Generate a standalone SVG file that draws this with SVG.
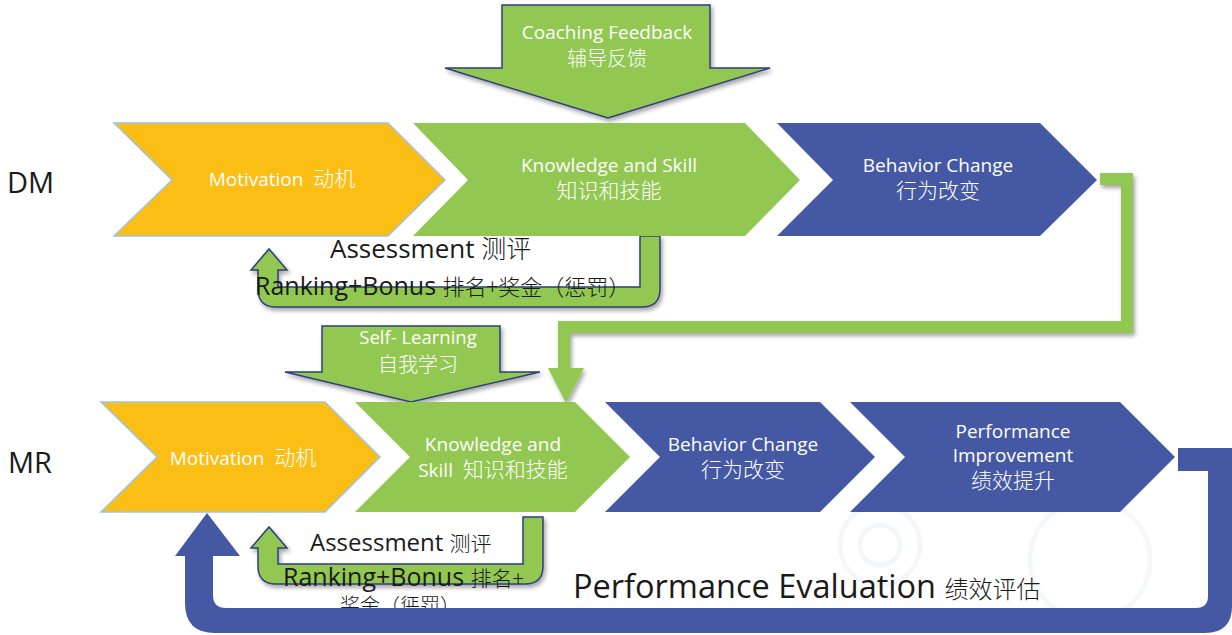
<svg xmlns="http://www.w3.org/2000/svg" width="1232" height="635" viewBox="0 0 1232 635">
<style>
.lbl{font-family:"Open Sans","Noto Sans CJK SC",sans-serif;fill:#1a1a1a}
.w{font-family:"Open Sans","Noto Sans CJK SC",sans-serif;fill:#ffffff;text-anchor:middle}
.cn{font-family:"Noto Sans CJK SC",sans-serif;font-weight:300}
.yel{fill:#FBBE15}
.grn{fill:#92C851}
.blu{fill:#4558A4}
.garrow{fill:#92C851;stroke:#2E3F7E;stroke-width:1.5;filter:url(#sh)}
</style>
<defs>
<filter id="sh" x="-10%" y="-10%" width="130%" height="130%">
<feDropShadow dx="2" dy="3" stdDeviation="2" flood-color="#000" flood-opacity="0.35"/>
</filter>
</defs>
<rect width="1232" height="635" fill="#ffffff"/>
<g id="watermark" fill="none" stroke="#eef2f6" stroke-width="5" opacity="0.6">
<circle cx="1090" cy="560" r="60"/>
<circle cx="880" cy="545" r="40"/>
<circle cx="880" cy="545" r="20"/>
</g>

<text class="lbl" x="7" y="193" font-size="29">DM</text>
<text class="lbl" x="8" y="473" font-size="29">MR</text>

<g id="connectors">
<path class="garrow" d="M640 236 L660 236 L660 289 Q660 307 642 307 L276 307 Q258 307 258 289 L258 270 L251 270 L269 249 L287 270 L278 270 L278 287 L640 287 Z"/>
<path class="garrow" d="M523 517 L543 517 L543 566 Q543 584 525 584 L276 584 Q258 584 258 566 L258 548 L251 548 L269 527 L287 548 L278 548 L278 564 L523 564 Z"/>
<path fill="#92C851" filter="url(#sh)" d="M1100 173 L1133 173 L1133 333 L570 333 L570 368 L584 368 L566 403 L548 368 L558 368 L558 321 L1121 321 L1121 185 L1100 185 Z"/>
</g>

<g id="coaching">
<path class="garrow" d="M502 5 L710 5 L710 68 L770 68 L608 118 L445 68 L502 68 Z"/>
<text class="w" x="607" y="39" font-size="19">Coaching  Feedback</text>
<text class="w cn" x="607" y="66" font-size="20">辅导反馈</text>
</g>

<g id="selflearning">
<path class="garrow" d="M322 326 L500 326 L500 372 L540 372 L411 402 L285 372 L322 372 Z"/>
<text class="w" x="418" y="344" font-size="18.5">Self- Learning</text>
<text class="w cn" x="418" y="372" font-size="20">自我学习</text>
</g>

<g id="dm-motivation">
<polygon class="yel" stroke="#9DC3E6" stroke-width="1.5" points="114,123 388,123 445,180 388,236 114,236 172,180"/>
<text class="w" x="282" y="186" font-size="19" xml:space="preserve">Motivation  <tspan class="cn" font-size="21">动机</tspan></text>
</g>
<g id="dm-knowledge">
<polygon class="grn" points="413,123 745,123 800,180 745,236 413,236 468,180"/>
<text class="w" x="609" y="172" font-size="19">Knowledge and Skill</text>
<text class="w cn" x="609" y="198" font-size="21">知识和技能</text>
</g>
<g id="dm-behavior">
<polygon class="blu" points="777,123 1040,123 1097,180 1040,236 777,236 833,180"/>
<text class="w" x="938" y="172" font-size="19">Behavior Change</text>
<text class="w cn" x="938" y="198" font-size="21">行为改变</text>
</g>

<g id="mr-motivation">
<polygon class="yel" stroke="#9DC3E6" stroke-width="1.5" points="101,402 325,402 380,457 325,512 101,512 157,457"/>
<text class="w" x="243" y="465" font-size="19" xml:space="preserve">Motivation  <tspan class="cn" font-size="21">动机</tspan></text>
</g>
<g id="mr-knowledge">
<polygon class="grn" points="355,402 575,402 630,457 575,512 355,512 410,457"/>
<text class="w" x="493" y="451" font-size="19">Knowledge and</text>
<text class="w" x="493" y="477" font-size="19" xml:space="preserve">Skill  <tspan class="cn" font-size="21">知识和技能</tspan></text>
</g>
<g id="mr-behavior">
<polygon class="blu" points="605,402 820,402 875,457 820,512 605,512 660,457"/>
<text class="w" x="743" y="451" font-size="19">Behavior Change</text>
<text class="w cn" x="743" y="477" font-size="21">行为改变</text>
</g>
<g id="mr-performance">
<polygon class="blu" points="850,402 1120,402 1175,457 1120,512 850,512 905,457"/>
<text class="w" x="1013" y="438" font-size="19">Performance</text>
<text class="w" x="1013" y="462" font-size="19">Improvement</text>
<text class="w cn" x="1013" y="488" font-size="21">绩效提升</text>
</g>

<g id="texts">
<text class="lbl" x="330" y="258" font-size="26">Assessment <tspan class="cn" font-size="25">测评</tspan></text>
<text class="lbl" x="255" y="295" font-size="25">Ranking+Bonus <tspan class="cn" font-size="22">排名+奖金（惩罚）</tspan></text>
<text class="lbl" x="310" y="551" font-size="24">Assessment <tspan class="cn" font-size="21">测评</tspan></text>
<text class="lbl" x="283" y="586" font-size="25">Ranking+Bonus <tspan class="cn" font-size="21">排名+</tspan></text>
<text class="lbl cn" x="340" y="613" font-size="20">奖金（惩罚）</text>
<text class="lbl" x="573" y="598" font-size="32.5">Performance Evaluation <tspan class="cn" font-size="24">绩效评估</tspan></text>
</g>

<g id="evaluation-arrow">
<path class="blu" d="M1178 448 L1232 448 L1232 606 Q1232 633 1205 633 L215 633 Q185 633 185 603 L185 556 L175 556 L207 513 L240 556 L213 556 L213 595 Q213 608 226 608 L1196 608 Q1208 608 1208 596 L1208 471 L1178 471 Z"/>
</g>
</svg>
